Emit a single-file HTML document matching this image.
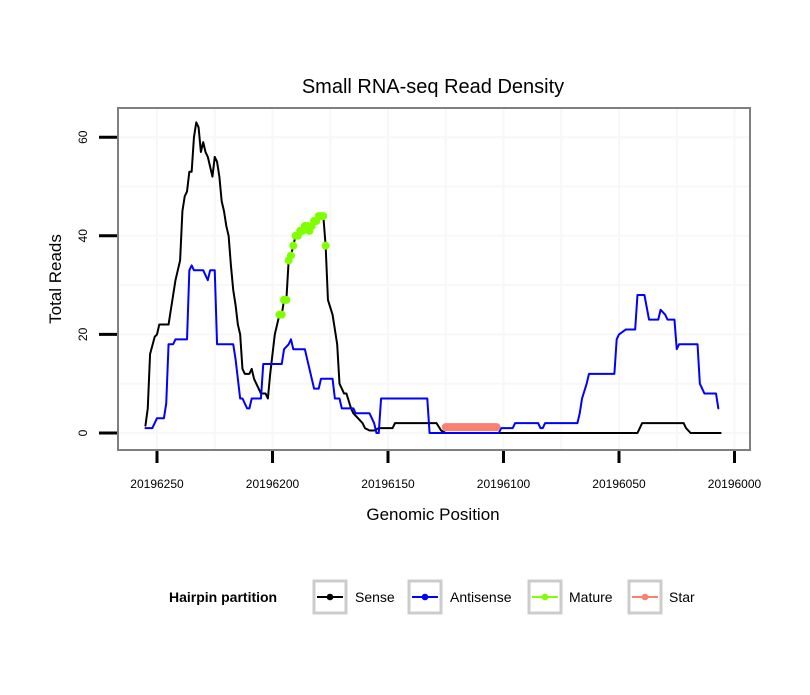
<!DOCTYPE html>
<html><head><meta charset="utf-8"><style>
body{margin:0;background:#fff;font-family:"Liberation Sans",sans-serif}
svg text{font-family:"Liberation Sans",sans-serif}
</style></head><body>
<svg id="chart" width="810" height="690" xmlns="http://www.w3.org/2000/svg">
<rect width="810" height="690" fill="#fff"/>
<text x="433" y="93" font-size="20" text-anchor="middle">Small RNA-seq Read Density</text>
<g id="grid"></g>
<g id="series"></g>
<rect x="118" y="108" width="632" height="342" fill="none" stroke="#7f7f7f" stroke-width="2"/>
<g id="axes"></g>
<text x="433" y="520" font-size="17" text-anchor="middle">Genomic Position</text>
<text transform="translate(61,279) rotate(-90)" font-size="17" text-anchor="middle">Total Reads</text>
<g>
<text x="169" y="602" font-size="14" font-weight="bold">Hairpin partition</text>
<g><rect x="314" y="581" width="32" height="32" fill="#fff" stroke="#ccc" stroke-width="3"/><line x1="317" y1="597" x2="343" y2="597" stroke="#000" stroke-width="2"/><circle cx="330" cy="597" r="3.3" fill="#000"/><text x="355" y="602" font-size="14">Sense</text></g>
<g><rect x="409" y="581" width="32" height="32" fill="#fff" stroke="#ccc" stroke-width="3"/><line x1="412" y1="597" x2="438" y2="597" stroke="#0000ff" stroke-width="2"/><circle cx="425" cy="597" r="3.3" fill="#0000ff"/><text x="450" y="602" font-size="14">Antisense</text></g>
<g><rect x="529" y="581" width="32" height="32" fill="#fff" stroke="#ccc" stroke-width="3"/><line x1="532" y1="597" x2="558" y2="597" stroke="#7fff00" stroke-width="2"/><circle cx="545" cy="597" r="3.3" fill="#7fff00"/><text x="569" y="602" font-size="14">Mature</text></g>
<g><rect x="629" y="581" width="32" height="32" fill="#fff" stroke="#ccc" stroke-width="3"/><line x1="632" y1="597" x2="658" y2="597" stroke="#fa8072" stroke-width="2"/><circle cx="645" cy="597" r="3.3" fill="#fa8072"/><text x="669" y="602" font-size="14">Star</text></g>
</g>
</svg>
<script>
const xTicks=[20196250,20196200,20196150,20196100,20196050,20196000];
const yTicks=[0,20,40,60];
const senseX=[20196255,20196254,20196253,20196251,20196250,20196249,20196245,20196244,20196243,20196242,20196240,20196239,20196238,20196237,20196236,20196235,20196234,20196233,20196232,20196231,20196230,20196229,20196228,20196227,20196226,20196225,20196224,20196223,20196222,20196221,20196220,20196219,20196218,20196217,20196216,20196215,20196214,20196213,20196212,20196210,20196209,20196208,20196206,20196205,20196203,20196202,20196201,20196199,20196197,20196196,20196195,20196194,20196193,20196192,20196191,20196190,20196189,20196188,20196187,20196186,20196185,20196184,20196183,20196182,20196181,20196180,20196179,20196178,20196177,20196176,20196174,20196172,20196171,20196169,20196168,20196166,20196165,20196163,20196161,20196160,20196158,20196156,20196154,20196148,20196147,20196129,20196127,20196125,20196042,20196040,20196022,20196021,20196019,20196006];
const senseY=[1.5,5,16,19.5,20,22,22,25,28,31,35,45,48,49,53,53,60,63,62,57,59,57,56,54,52,56,55,52,47,45,42,40,34,29,26,22,20,13,12,12,13,11,9,8,8,7,12,20,24,24,27,27,35,36,38,40,40,41,41,42,42,41,42,43,43,44,44,44,38,27,24,18,10,8,8,5,4,3,2,1,0.5,0.5,1,1,2,2,0.5,0,0,2,2,1,0,0];
const antiX=[20196255,20196252,20196250,20196247,20196246,20196245,20196243,20196242,20196237,20196236,20196235,20196234,20196230,20196228,20196227,20196225,20196224,20196217,20196216,20196214,20196213,20196211,20196210,20196209,20196205,20196204,20196196,20196195,20196193,20196192,20196191,20196186,20196185,20196182,20196180,20196179,20196174,20196173,20196171,20196170,20196165,20196164,20196158,20196156,20196155,20196154,20196153,20196133,20196132,20196102,20196101,20196096,20196095,20196085,20196084,20196083,20196082,20196068,20196067,20196066,20196064,20196063,20196052,20196051,20196050,20196047,20196043,20196042,20196039,20196037,20196033,20196032,20196030,20196029,20196026,20196025,20196024,20196016,20196015,20196013,20196008,20196007];
const antiY=[1,1,3,3,6,18,18,19,19,33,34,33,33,31,33,33,18,18,15,7,7,5,5,7,7,14,14,17,18,19,17,17,15,9,9,11,11,7,7,5,5,4,4,2,0,0,7,7,0,0,1,1,2,2,1,1,2,2,4,7,10,12,12,19,20,21,21,28,28,23,23,25,24,23,23,17,18,18,10,8,8,5];
const matureX=[20196197,20196196,20196195,20196194,20196193,20196192,20196191,20196190,20196189,20196188,20196187,20196186,20196185,20196184,20196183,20196182,20196181,20196180,20196179,20196178,20196177];
const matureY=[24,24,27,27,35,36,38,40,40,41,41,42,42,41,42,43,43,44,44,44,38];
const starX=[20196125,20196121,20196117,20196113,20196109,20196105,20196103];
const starY=[1.2,1.2,1.2,1.2,1.2,1.2,1.2];

const NS='http://www.w3.org/2000/svg';
const sx=v=>157+(20196250-v)*2.31;
const sy=v=>433-v*4.93;
function mk(tag,attrs,parent){const e=document.createElementNS(NS,tag);for(const k in attrs)e.setAttribute(k,attrs[k]);parent.appendChild(e);return e;}
const grid=document.getElementById('grid'),axes=document.getElementById('axes'),series=document.getElementById('series');
for(let v=20196275;v>=20195975;v-=25){const x=sx(v);if(x<119||x>749)continue;
  const l=mk('line',{x1:x,x2:x,y1:109,y2:449,stroke:'#f7f7f7','stroke-width':2},grid);
  
  }
for(let v=0;v<=60;v+=10){const y=sy(v);
  const l=mk('line',{x1:119,x2:749,y1:y,y2:y,stroke:'#f7f7f7','stroke-width':2},grid);
  
  }
xTicks.forEach(v=>{const x=sx(v);
  const t=mk('line',{x1:x,x2:x,y1:451,y2:463,stroke:'#000','stroke-width':3},axes);
  
  
  const tx=mk('text',{x:x,y:488,'font-size':12,'text-anchor':'middle'},axes);tx.textContent=v;
  
  });
yTicks.forEach(v=>{const y=sy(v);
  const t=mk('line',{x1:99,x2:117,y1:y,y2:y,stroke:'#000','stroke-width':3},axes);
  
  
  const tx=mk('text',{transform:`translate(87,${y}) rotate(-90)`,'font-size':12,'text-anchor':'middle'},axes);tx.textContent=v;
  
  });
function line(xs,ys,col,w,name){const p=mk('polyline',{points:xs.map((x,i)=>sx(x)+','+sy(ys[i])).join(' '),fill:'none',stroke:col,'stroke-width':w,'stroke-linejoin':'round','stroke-linecap':'round'},series);
  
  }
line(senseX,senseY,'#000',2,'sense-line');
line(antiX,antiY,'#0000ff',2,'antisense-line');
line(starX,starY,'#fa8072',8,'star-line');
matureX.forEach((x,i)=>{const c=mk('circle',{cx:sx(x),cy:sy(matureY[i]),r:4,fill:'#7fff00'},series);
  
  });
</script>
</body></html>
